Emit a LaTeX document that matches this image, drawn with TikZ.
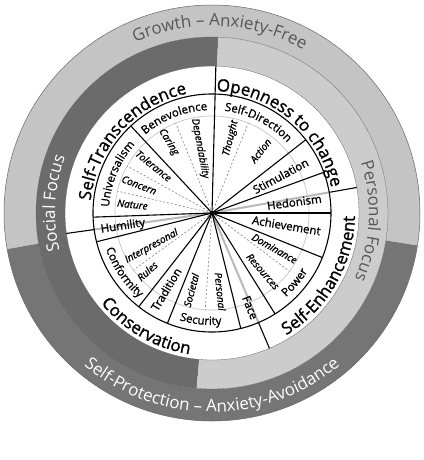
\documentclass[tikz,border=0pt]{standalone}
\usepackage{fontspec}
\setmainfont{Open Sans}
\newfontfamily\medsans{Open Sans}[FakeBold=1.2]
\usetikzlibrary{decorations.text}
\definecolor{outerlight}{gray}{0.77}
\definecolor{outerdark}{gray}{0.46}
\definecolor{innerlight}{gray}{0.80}
\definecolor{innerdark}{gray}{0.42}
\definecolor{textgrey}{gray}{0.34}
\newcommand\myHOfont{\medsans\fontsize{17}{17}\selectfont}
\newcommand\myRingfont{\fontsize{17}{17}\selectfont}
\newcommand\myValfont{\medsans\fontsize{11.5}{12}\selectfont}
\tikzset{
  spoke/.style={black,line width=1.1bp},
  subspoke/.style={gray,dash pattern=on 2bp off 2bp,line width=0.6bp},
  greyspoke/.style={gray!55,line width=2bp},
  ringedge/.style={gray!80!black,line width=0.5bp},
  subval/.style={font=\medsans\fontsize{10}{10}\selectfont\itshape,inner sep=0pt},
  valr/.style={font=\myValfont,inner sep=0pt},
}
\begin{document}
\begin{tikzpicture}[x=1bp,y=1bp]
\useasboundingbox (-212bp,-247bp) rectangle (212bp,213bp);
\fill[white] (-212bp,-247bp) rectangle (212bp,213bp);
\coordinate (c) at (0,0);
% outer ring
\fill[outerlight] (-9:208bp) arc[start angle=-9,end angle=190,radius=208bp] -- (190:176bp) arc[start angle=190,end angle=-9,radius=176bp] -- cycle;
\fill[outerdark] (190:208bp) arc[start angle=190,end angle=351,radius=208bp] -- (351:176bp) arc[start angle=351,end angle=190,radius=176bp] -- cycle;
% inner ring
\fill[innerdark] (88:176bp) arc[start angle=88,end angle=265,radius=176bp] -- (265:147bp) arc[start angle=265,end angle=88,radius=147bp] -- cycle;
\fill[innerlight] (265:176bp) arc[start angle=265,end angle=448,radius=176bp] -- (448:147bp) arc[start angle=448,end angle=265,radius=147bp] -- cycle;
\draw[ringedge] (c) circle[radius=208bp];
\draw[ringedge,line width=0.3bp] (c) circle[radius=176bp];
\draw[ringedge,line width=0.3bp] (c) circle[radius=147bp];
% wheel
\draw[gray!45,line width=0.7bp] (c) circle[radius=97bp];
\foreach \a in {10,293,188} {\draw[greyspoke] (c) -- (\a:119bp);}
\foreach \a in {68,112,151,167,216,266,-37} {\draw[subspoke] (c) -- (\a:97bp);}
\foreach \a in {38,20,0,-22,-58,-76,248,232,194,182,133} {\draw[spoke] (c) -- (\a:119bp);}
\draw[spoke] (c) -- (88.5:147bp);
\foreach \a in {10,293,188} {\draw[spoke] (\a:119bp) -- (\a:147bp);}
\draw[black,line width=1.1bp] (c) circle[radius=119bp];
\fill[black] (c) circle[radius=2.2bp];
% outer ring texts
\path[decorate,decoration={text along path,text align=center,text color=textgrey,text={|\myRingfont|Growth – Anxiety-Free}}] (175:187bp) arc[start angle=175,end angle=0,radius=187bp];
\path[decorate,decoration={text along path,text align=center,text color=white,text={|\myRingfont|Self-Protection – Anxiety-Avoidance}}] (180:199bp) arc[start angle=180,end angle=360,radius=199bp];
\path[decorate,decoration={text along path,text align=center,text color=white,text={|\myRingfont|Social Focus}}] (230:157bp) arc[start angle=230,end angle=123,radius=157bp];
\path[decorate,decoration={text along path,text align=center,text color=textgrey,text={|\myRingfont|Personal Focus}}] (60:157bp) arc[start angle=60,end angle=-66,radius=157bp];
% higher order labels
\path[decorate,decoration={text along path,text align=center,text={|\myHOfont|Self-Transcendence}}] (190:122bp) arc[start angle=190,end angle=86,radius=122bp];
\path[decorate,decoration={text along path,text align=center,text={|\myHOfont|Openness to change}}] (95:122bp) arc[start angle=95,end angle=5,radius=122bp];
\path[decorate,decoration={text along path,text align=center,text={|\myHOfont|Self-Enhancement}}] (-80:143bp) arc[start angle=-80,end angle=20,radius=143bp];
\path[decorate,decoration={text along path,text align=center,text={|\myHOfont|Conservation}}] (190:143bp) arc[start angle=190,end angle=290,radius=143bp];
% value names in band
\path[decorate,decoration={text along path,text align=center,text={|\myValfont|Benevolence}}] (135:103bp) arc[start angle=135,end angle=88,radius=103bp];
\path[decorate,decoration={text along path,text align=center,text={|\myValfont|Self-Direction}}] (90:103bp) arc[start angle=90,end angle=36,radius=103bp];
\path[decorate,decoration={text along path,text align=center,text={|\myValfont|Universalism}}] (184:103bp) arc[start angle=184,end angle=131,radius=103bp];
\path[decorate,decoration={text along path,text align=center,text={|\myValfont|Conformity}}] (192:112bp) arc[start angle=192,end angle=236,radius=112bp];
\path[decorate,decoration={text along path,text align=center,text={|\myValfont|Security}}] (244:112bp) arc[start angle=244,end angle=284,radius=112bp];
\path[decorate,decoration={text along path,text align=center,text={|\myValfont|Power}}] (300:112bp) arc[start angle=300,end angle=340,radius=112bp];
% radial values
\node[valr,rotate=28.4] (stim) at (28.4:78bp) {Stimulation};
\node[valr,rotate=7.6] (hed) at (7.6:83bp) {Hedonism};
\node[valr,rotate=-9.5] (ach) at (-9.5:75.5bp) {Achievement};
\node[valr,rotate=-68] (face) at (-68:102bp) {Face};
\node[valr,rotate=59] (trad) at (239:89bp) {Tradition};
\node[valr,rotate=8.6] (hum) at (188.6:90bp) {Humility};
% sub values
\node[subval,rotate=76] (thought) at (76:77bp) {Thought};
\node[subval,rotate=52] (action) at (52:79bp) {Action};
\node[subval,rotate=-79.5] (depend) at (100.5:65.6bp) {Dependability};
\node[subval,rotate=-58.5] (caring) at (121.5:83bp) {Caring};
\node[subval,rotate=-39] (toler) at (141:75bp) {Tolerance};
\node[subval,rotate=-21] (concern) at (159:78bp) {Concern};
\node[subval,rotate=-6] (nature) at (174:80bp) {Nature};
\node[subval,rotate=29] (interp) at (209:69bp) {Interpresonal};
\node[subval,rotate=42] (rules) at (222:87bp) {Rules};
\node[subval,rotate=75] (societal) at (255:80bp) {Societal};
\node[subval,rotate=-84] (personal) at (-84:79bp) {Personal};
\node[subval,rotate=-49] (resources) at (-49:77.6bp) {Resources};
\node[subval,rotate=-29.6] (dominance) at (-29.6:72bp) {Dominance};
\end{tikzpicture}
\end{document}
